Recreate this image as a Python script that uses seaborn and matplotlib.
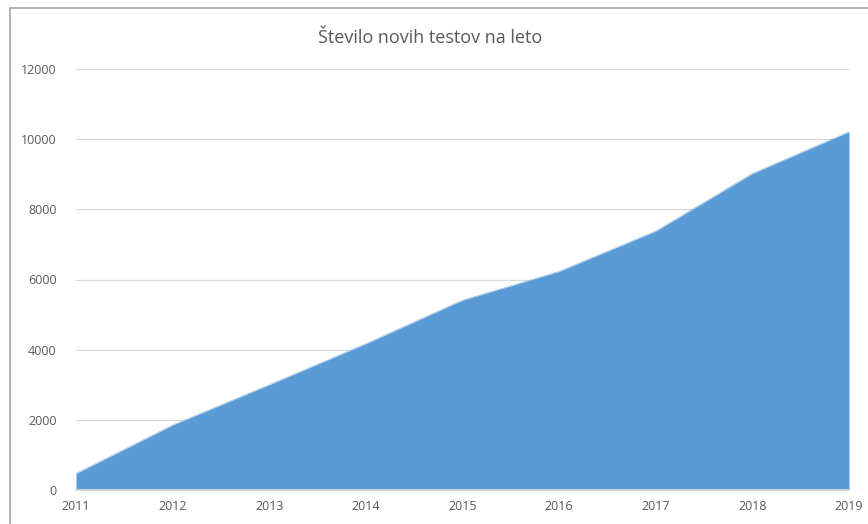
import matplotlib
matplotlib.use("Agg")
import matplotlib.pyplot as plt
import seaborn as sns
import pandas as pd
from matplotlib.patches import Rectangle

years = [2011, 2012, 2013, 2014, 2015, 2016, 2017, 2018, 2019]
tests = [470, 1850, 3000, 4170, 5410, 6230, 7380, 9020, 10210]
y_ticks = [0, 2000, 4000, 6000, 8000, 10000, 12000]
title = "Število novih testov na leto"

df = pd.DataFrame({"leto": years, "testi": tests})

sns.set_theme(style="white")
plt.rcParams['font.family'] = ['Open Sans', 'DejaVu Sans']

fig = plt.figure(figsize=(8.68, 5.24), dpi=100)
ax = fig.add_axes([76/868, 1-490/524, (849-76)/868, (490-69)/524])

color = "#5B9BD5"
sns.lineplot(data=df, x="leto", y="testi", ax=ax, color=color, linewidth=0.3, zorder=3)
ax.fill_between(df["leto"], df["testi"], 0, color=color, linewidth=0, zorder=2)

ax.set_xlim(years[0], years[-1])
ax.set_ylim(0, 12000)
ax.set_xticks(years)
ax.set_xticklabels([str(y) for y in years])
ax.set_yticks(y_ticks)
ax.set_yticklabels([str(v) for v in y_ticks])
ax.yaxis.grid(True, color="#D9D9D9", linewidth=0.9)
ax.set_axisbelow(True)
for s in ["top", "right", "left"]:
    ax.spines[s].set_visible(False)
ax.spines["bottom"].set_color("#D9D9D9")
ax.tick_params(axis="x", length=4, color="#D9D9D9", colors="#595959", labelsize=9, pad=3)
ax.tick_params(axis="y", length=0, colors="#595959", labelsize=9, pad=14)
ax.set_xlabel("")
ax.set_ylabel("")

fig.text(430/868, 1-38/524, title, ha="center", va="center", fontsize=13, color="#595959")

fig.patches.append(Rectangle((10/868, -0.1), 1.0, 1-8/524+0.1, transform=fig.transFigure,
                             fill=False, edgecolor="#A6A6A6", linewidth=1.2))

fig.savefig("out.png", dpi=100)
